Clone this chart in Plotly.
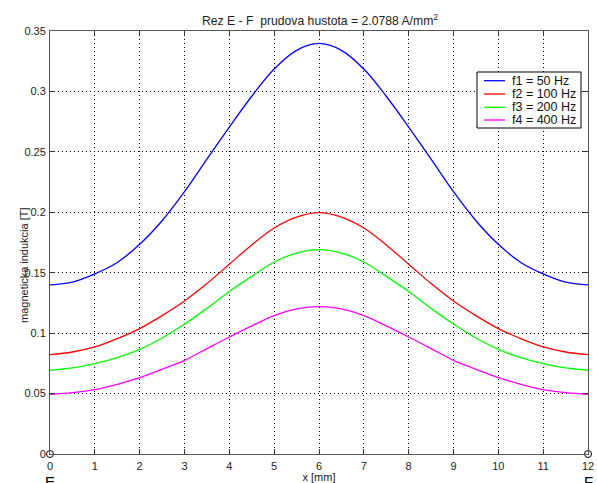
import plotly.graph_objects as go

x_mm = [0, 0.5, 1, 1.5, 2, 2.5, 3, 3.5, 4, 4.5, 5, 5.5, 6,
        6.5, 7, 7.5, 8, 8.5, 9, 9.5, 10, 10.5, 11, 11.5, 12]

b_50 = [0.1400, 0.1422, 0.1490, 0.1585, 0.1735, 0.1930, 0.2170, 0.2440, 0.2705, 0.2960, 0.3185, 0.3340, 0.3397,
        0.3340, 0.3185, 0.2960, 0.2705, 0.2440, 0.2170, 0.1930, 0.1735, 0.1585, 0.1490, 0.1422, 0.1400]
b_100 = [0.0822, 0.0844, 0.0886, 0.0955, 0.1038, 0.1145, 0.1266, 0.1410, 0.1570, 0.1730, 0.1870, 0.1960, 0.1997,
         0.1960, 0.1870, 0.1730, 0.1570, 0.1410, 0.1266, 0.1145, 0.1038, 0.0955, 0.0886, 0.0844, 0.0822]
b_200 = [0.0693, 0.0712, 0.0748, 0.0798, 0.0866, 0.0960, 0.1075, 0.1205, 0.1345, 0.1470, 0.1589, 0.1663, 0.1691,
         0.1663, 0.1589, 0.1470, 0.1345, 0.1205, 0.1075, 0.0960, 0.0866, 0.0798, 0.0748, 0.0712, 0.0693]
b_400 = [0.0494, 0.0508, 0.0533, 0.0577, 0.0632, 0.0701, 0.0775, 0.0872, 0.0968, 0.1060, 0.1145, 0.1200, 0.1220,
         0.1200, 0.1145, 0.1060, 0.0968, 0.0872, 0.0775, 0.0701, 0.0632, 0.0577, 0.0533, 0.0508, 0.0494]

names = ["f1 = 50 Hz", "f2 = 100 Hz", "f3 = 200 Hz", "f4 = 400 Hz"]
colors = ["#0000ff", "#ff0000", "#00ff00", "#ff00ff"]
series = [b_50, b_100, b_200, b_400]

end_x = [0, 12]
end_y = [0, 0]
end_labels = ["E", "F"]

x_ticks = list(range(0, 13))
y_ticks = [0, 0.05, 0.1, 0.15, 0.2, 0.25, 0.3, 0.35]
y_ticktext = ["0", "0.05", "0.1", "0.15", "0.2", "0.25", "0.3", "0.35"]

W, H = 597, 483
ML, MR, MT, MB = 50, 9, 31, 29
PW, PH = W - ML - MR, H - MT - MB


def px_x(px):
    return (px - ML) / PW


def px_y(py):
    return (H - MB - py) / PH


fig = go.Figure()
for ys, nm, c in zip(series, names, colors):
    fig.add_trace(go.Scatter(x=x_mm, y=ys, mode="lines", name=nm, showlegend=False,
                             line=dict(color=c, width=1.3, shape="spline", smoothing=1.0)))

fig.add_trace(go.Scatter(x=end_x, y=end_y, mode="markers", showlegend=False,
                         marker=dict(symbol="circle-open", size=7, color="black", line=dict(width=1)),
                         cliponaxis=False))

for xv, lab in zip(end_x, end_labels):
    fig.add_annotation(x=xv, xref="x", y=-0.04, yref="paper", yanchor="top",
                       text=lab, showarrow=False, font=dict(size=15, color="black"))

# legend box (MATLAB-style compact legend)
shapes = [dict(type="rect", xref="paper", yref="paper",
               x0=px_x(477), x1=px_x(581), y0=px_y(128), y1=px_y(72),
               line=dict(color="black", width=1), fillcolor="white", layer="above")]
row_y = [80.7, 94, 107.3, 120]
for nm, c, ry in zip(names, colors, row_y):
    shapes.append(dict(type="line", xref="paper", yref="paper",
                       x0=px_x(484), x1=px_x(505), y0=px_y(ry), y1=px_y(ry),
                       line=dict(color=c, width=1.3), layer="above"))
    fig.add_annotation(x=px_x(510), y=px_y(ry), xref="paper", yref="paper",
                       xanchor="left", yanchor="middle", text=nm, showarrow=False,
                       font=dict(size=12.5, color="#111"))

fig.add_annotation(x=px_x(24), y=px_y(265), xref="paper", yref="paper",
                   xanchor="center", yanchor="middle", textangle=-90,
                   text="magneticka indukcia [T]", showarrow=False,
                   font=dict(size=11, color="#222"))

fig.update_layout(
    width=W, height=H,
    margin=dict(l=ML, r=MR, t=MT, b=MB, autoexpand=False),
    paper_bgcolor="white", plot_bgcolor="white",
    font=dict(family="Liberation Sans, Arial, sans-serif", size=11, color="#222"),
    title=dict(text="Rez E - F  prudova hustota = 2.0788 A/mm<sup>2</sup>",
               xref="container", x=320 / W, xanchor="center",
               yref="container", y=1 - 21 / H, yanchor="middle",
               font=dict(size=12.2, color="#222")),
    showlegend=False,
    shapes=shapes,
)

grid_dash = "1px,3px"
fig.update_xaxes(range=[0, 12], tickvals=x_ticks, ticks="inside", ticklen=5,
                 tickcolor="#333", showline=True, linecolor="#555", linewidth=1, mirror="ticks",
                 showgrid=True, gridcolor="black", griddash=grid_dash, gridwidth=1,
                 zeroline=False, automargin=False, ticklabelstandoff=2,
                 title=dict(text="x [mm]", standoff=2, font=dict(size=11)))
fig.update_yaxes(range=[0, 0.35], tickvals=y_ticks, ticktext=y_ticktext, ticks="inside", ticklen=5,
                 tickcolor="#333", showline=True, linecolor="#555", linewidth=1, mirror="ticks",
                 showgrid=True, gridcolor="black", griddash=grid_dash, gridwidth=1,
                 zeroline=False, automargin=False, ticklabelstandoff=1)

fig.write_html("out.html")
